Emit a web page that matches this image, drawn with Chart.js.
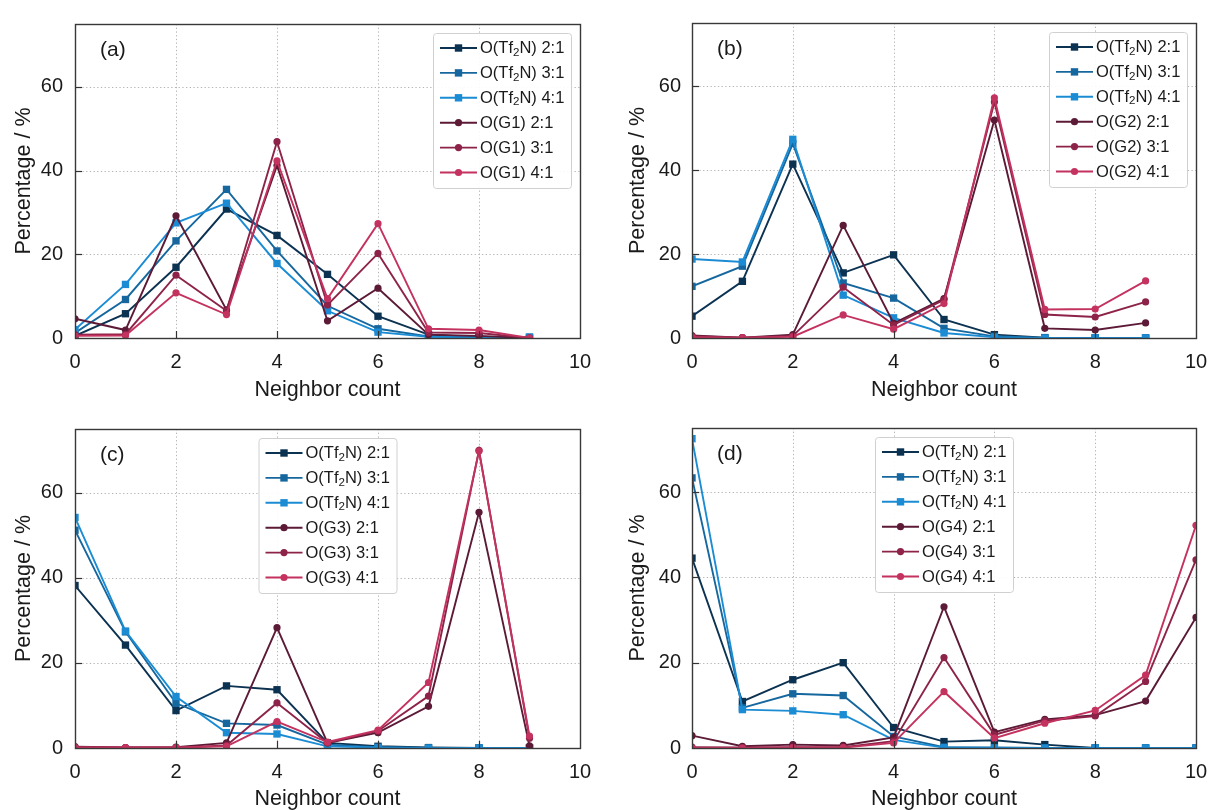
<!DOCTYPE html>
<html><head><meta charset="utf-8">
<script src="https://cdn.jsdelivr.net/npm/chart.js@4.4.1/dist/chart.umd.min.js"></script>
<style>
html,body{margin:0;padding:0;background:#fff;}
#wrap{position:relative;width:1208px;height:810px;overflow:hidden;background:#fff;}
canvas{position:absolute;display:block;}
</style></head><body>
<div id="wrap">
<canvas id="ca" width="604" height="405" style="left:0;top:0"></canvas>
<canvas id="cb" width="630" height="405" style="left:604px;top:0"></canvas>
<canvas id="cc" width="604" height="405" style="left:0;top:405px"></canvas>
<canvas id="cd" width="630" height="405" style="left:604px;top:405px"></canvas>
</div>
<script>
// ---------- data ----------
const countsABC = [0, 1, 2, 3, 4, 5, 6, 7, 8, 9];
const countsD = [0, 1, 2, 3, 4, 5, 6, 7, 8, 9, 10];
const xTicks = [0, 2, 4, 6, 8, 10];
const yTicks = [0, 20, 40, 60];
const panelLabels = ['(a)', '(b)', '(c)', '(d)'];
const tfLabels = ['O(Tf₂N) 2:1', 'O(Tf₂N) 3:1', 'O(Tf₂N) 4:1'];
const gLabelsA = ['O(G1) 2:1', 'O(G1) 3:1', 'O(G1) 4:1'];
const gLabelsB = ['O(G2) 2:1', 'O(G2) 3:1', 'O(G2) 4:1'];
const gLabelsC = ['O(G3) 2:1', 'O(G3) 3:1', 'O(G3) 4:1'];
const gLabelsD = ['O(G4) 2:1', 'O(G4) 3:1', 'O(G4) 4:1'];

// panel (a)
const aTf21 = [0.5, 5.8, 16.9, 30.8, 24.5, 15.2, 5.2, 0.8, 0.2, 0];
const aTf31 = [1.2, 9.2, 23.2, 35.5, 20.8, 7.7, 2.2, 0.4, 0.1, 0.2];
const aTf41 = [2.0, 12.8, 27.5, 32.2, 17.8, 6.5, 1.4, 0.3, 0.1, 0.2];
const aG21 = [4.6, 1.9, 29.2, 6.7, 41.2, 4.1, 11.9, 0.8, 0.5, 0];
const aG31 = [0.8, 0.9, 15.0, 6.5, 46.9, 7.9, 20.2, 1.3, 1.2, 0];
const aG41 = [0.5, 0.6, 10.8, 5.6, 42.3, 9.4, 27.3, 2.2, 1.9, 0];
// panel (b)
const bTf21 = [5.2, 13.5, 41.4, 15.5, 19.8, 4.4, 0.8, 0.1, 0, 0];
const bTf31 = [12.3, 17.1, 46.3, 13.1, 9.5, 2.3, 0.4, 0, 0, 0];
const bTf41 = [18.8, 18.1, 47.3, 10.2, 4.8, 1.2, 0.2, 0, 0, 0];
const bG21 = [0.6, 0.1, 0.8, 26.8, 3.5, 9.4, 51.9, 2.3, 1.9, 3.6];
const bG31 = [0.4, 0.1, 0.5, 12.1, 3.1, 9.1, 56.2, 5.6, 5.0, 8.6];
const bG41 = [0.2, 0.1, 0.3, 5.5, 2.1, 8.2, 57.2, 6.8, 6.9, 13.6];
// panel (c)
const cTf21 = [38.2, 24.2, 8.8, 14.6, 13.7, 1.2, 0.4, 0.1, 0, 0];
const cTf31 = [51.2, 27.3, 10.5, 5.8, 5.4, 0.8, 0.2, 0, 0, 0];
const cTf41 = [54.2, 27.5, 12.1, 3.6, 3.3, 0.4, 0.1, 0, 0, 0];
const cG21 = [0.3, 0.1, 0.2, 1.2, 28.3, 1.2, 3.6, 9.8, 55.4, 0.5];
const cG31 = [0.2, 0.1, 0.1, 0.6, 10.6, 1.2, 4.0, 12.2, 70.0, 2.3];
const cG41 = [0.1, 0.1, 0.1, 0.4, 6.2, 1.4, 4.2, 15.4, 69.8, 2.8];
// panel (d)
const dTf21 = [44.5, 10.9, 16.0, 20.0, 4.8, 1.5, 1.8, 0.8, 0, 0, 0];
const dTf31 = [63.3, 9.4, 12.7, 12.3, 2.7, 0.2, 0.1, 0, 0, 0, 0];
const dTf41 = [72.5, 9.0, 8.7, 7.8, 1.9, 0.1, 0, 0, 0, 0, 0];
const dG21 = [2.9, 0.4, 0.8, 0.6, 2.5, 33.1, 3.7, 6.7, 7.7, 11.0, 30.6];
const dG31 = [0.2, 0.1, 0.2, 0.2, 1.6, 21.2, 3.1, 6.4, 7.5, 15.6, 44.1];
const dG41 = [0, 0, 0.1, 0.1, 1.2, 13.2, 2.3, 5.8, 8.8, 17.1, 52.2];

// ---------- styles ----------
const tfColors = ['#0c3252', '#15679e', '#1b8cd4'];
const gColors = ['#5c1a36', '#8d2349', '#c4325f'];
const FONT = '"Liberation Sans", Arial, Helvetica, sans-serif';
const TXT = '#1a1a1a';

Chart.defaults.font.family = FONT;
Chart.defaults.color = TXT;

function drawRich(ctx, text, x, y, size) {
  const parts = text.split('₂');
  let cx = x;
  parts.forEach((p, i) => {
    ctx.font = size + 'px ' + FONT;
    ctx.fillText(p, cx, y);
    cx += ctx.measureText(p).width;
    if (i < parts.length - 1) {
      const s = size * 0.7;
      ctx.font = s + 'px ' + FONT;
      ctx.fillText('2', cx, y + size * 0.24);
      cx += ctx.measureText('2').width;
    }
  });
}

const decoPlugin = {
  id: 'panelDeco',
  beforeDatasetsDraw(chart) {
    const {ctx, chartArea: a, scales: {x, y}} = chart;
    ctx.save();
    ctx.strokeStyle = '#b5b5b5';
    ctx.lineWidth = 1;
    ctx.setLineDash([1.3, 2.4]);
    xTicks.forEach(v => {
      if (v > x.min && v < x.max) {
        const px = Math.round(x.getPixelForValue(v)) + 0.5;
        ctx.beginPath(); ctx.moveTo(px, a.top); ctx.lineTo(px, a.bottom); ctx.stroke();
      }
    });
    yTicks.forEach(v => {
      if (v > y.min && v < y.max) {
        const py = Math.round(y.getPixelForValue(v)) + 0.5;
        ctx.beginPath(); ctx.moveTo(a.left, py); ctx.lineTo(a.right, py); ctx.stroke();
      }
    });
    ctx.restore();
  },
  afterDatasetsDraw(chart) {
    const {ctx, chartArea: a, scales: {x, y}} = chart;
    const deco = chart.options.plugins.panelDeco;
    ctx.save();
    // inside ticks
    ctx.strokeStyle = '#333';
    ctx.lineWidth = 1.2;
    xTicks.forEach(v => {
      if (v > x.min && v < x.max) {
        const px = Math.round(x.getPixelForValue(v)) + 0.5;
        ctx.beginPath(); ctx.moveTo(px, a.bottom); ctx.lineTo(px, a.bottom - 7); ctx.stroke();
      }
    });
    yTicks.forEach(v => {
      if (v > y.min && v < y.max) {
        const py = Math.round(y.getPixelForValue(v)) + 0.5;
        ctx.beginPath(); ctx.moveTo(a.left, py); ctx.lineTo(a.left + 7, py); ctx.stroke();
      }
    });
    // frame
    ctx.strokeStyle = '#383838';
    ctx.lineWidth = 1.4;
    ctx.strokeRect(Math.round(a.left) + 0.5, Math.round(a.top) + 0.5,
                   Math.round(a.right - a.left), Math.round(a.bottom - a.top));
    // panel label
    ctx.fillStyle = TXT;
    ctx.font = '21px ' + FONT;
    ctx.textBaseline = 'middle';
    ctx.textAlign = 'left';
    ctx.fillText(deco.label, a.left + 25, a.top + 26);
    // legend
    const w = 138, h = 155;
    const bx = deco.legendAlign === 'right' ? a.right - 9 - w : (a.left + a.right) / 2 - w / 2;
    const by = a.top + 9;
    ctx.beginPath();
    if (ctx.roundRect) ctx.roundRect(bx + 0.5, by + 0.5, w, h, 3); else ctx.rect(bx + 0.5, by + 0.5, w, h);
    ctx.fillStyle = 'rgba(255,255,255,0.92)';
    ctx.fill();
    ctx.strokeStyle = '#d0d0d0';
    ctx.lineWidth = 1;
    ctx.stroke();
    chart.data.datasets.forEach((ds, i) => {
      const cy = by + 15 + i * 24.9;
      ctx.strokeStyle = ds.borderColor;
      ctx.lineWidth = 1.9;
      ctx.beginPath(); ctx.moveTo(bx + 7, cy); ctx.lineTo(bx + 44, cy); ctx.stroke();
      ctx.fillStyle = ds.borderColor;
      const mx = bx + 25.5;
      if (ds.pointStyle === 'rect') {
        ctx.fillRect(mx - 3.7, cy - 3.7, 7.4, 7.4);
      } else {
        ctx.beginPath(); ctx.arc(mx, cy, 3.6, 0, Math.PI * 2); ctx.fill();
      }
      ctx.fillStyle = TXT;
      ctx.textBaseline = 'middle';
      drawRich(ctx, ds.label, bx + 47, cy + 0.5, 16.5);
    });
    ctx.restore();
  }
};

function series(counts, vals) {
  return counts.map((c, i) => ({x: c, y: vals[i]}));
}

function makeDatasets(counts, tfSeries, gSeries, gLabels) {
  const out = [];
  tfSeries.forEach((vals, i) => out.push({
    label: tfLabels[i], data: series(counts, vals), borderColor: tfColors[i], backgroundColor: tfColors[i],
    pointStyle: 'rect', pointRadius: 5.2, pointBorderWidth: 0
  }));
  gSeries.forEach((vals, i) => out.push({
    label: gLabels[i], data: series(counts, vals), borderColor: gColors[i], backgroundColor: gColors[i],
    pointStyle: 'circle', pointRadius: 3.6, pointBorderWidth: 0
  }));
  out.forEach((d, i) => {
    d.borderWidth = 1.9; d.tension = 0; d.clip = 0; d.order = 10 - i; d.pointHoverRadius = d.pointRadius;
  });
  return out;
}

function makePanel(id, datasets, cfg) {
  new Chart(document.getElementById(id), {
    type: 'line',
    data: {datasets},
    plugins: [decoPlugin],
    options: {
      responsive: false,
      animation: false,
      events: [],
      layout: {padding: {left: 0, right: cfg.padRight, top: cfg.padTop, bottom: 0}},
      plugins: {
        legend: {display: false},
        tooltip: {enabled: false},
        panelDeco: {label: cfg.label, legendAlign: cfg.legendAlign}
      },
      scales: {
        x: {
          type: 'linear', min: 0, max: 10,
          afterBuildTicks: s => { s.ticks = xTicks.map(v => ({value: v})); },
          afterFit: s => { s.height = cfg.xHeight; },
          grid: {display: false, drawTicks: false, tickLength: 0},
          border: {display: false},
          ticks: {font: {size: 20, lineHeight: 1.2}, padding: 12, color: TXT, maxRotation: 0},
          title: {display: true, text: 'Neighbor count', font: {size: 21.5, lineHeight: 1}, padding: {top: 0, bottom: cfg.xTitlePad}, color: TXT}
        },
        y: {
          type: 'linear', min: 0, max: 75,
          afterBuildTicks: s => { s.ticks = yTicks.map(v => ({value: v})); },
          afterFit: s => { s.width = cfg.yWidth; },
          grid: {display: false, drawTicks: false, tickLength: 0},
          border: {display: false},
          ticks: {font: {size: 20, lineHeight: 1.2}, padding: cfg.yTickPad, color: TXT},
          title: {display: true, text: 'Percentage / %', font: {size: 21.5, lineHeight: 1}, padding: {top: cfg.yTitlePad, bottom: 0}, color: TXT}
        }
      }
    }
  });
}

makePanel('ca', makeDatasets(countsABC, [aTf21, aTf31, aTf41], [aG21, aG31, aG41], gLabelsA),
  {label: panelLabels[0], legendAlign: 'right', padRight: 24, padTop: 12, xHeight: 67, yWidth: 75, yTickPad: 12, yTitlePad: 13, xTitlePad: 4});
makePanel('cb', makeDatasets(countsABC, [bTf21, bTf31, bTf41], [bG21, bG31, bG41], gLabelsB),
  {label: panelLabels[1], legendAlign: 'right', padRight: 38, padTop: 12, xHeight: 67, yWidth: 88, yTickPad: 11, yTitlePad: 23, xTitlePad: 4});
makePanel('cc', makeDatasets(countsABC, [cTf21, cTf31, cTf41], [cG21, cG31, cG41], gLabelsC),
  {label: panelLabels[2], legendAlign: 'center', padRight: 24, padTop: 17, xHeight: 62, yWidth: 75, yTickPad: 12, yTitlePad: 13, xTitlePad: 0});
makePanel('cd', makeDatasets(countsD, [dTf21, dTf31, dTf41], [dG21, dG31, dG41], gLabelsD),
  {label: panelLabels[3], legendAlign: 'center', padRight: 38, padTop: 17, xHeight: 62, yWidth: 88, yTickPad: 11, yTitlePad: 23, xTitlePad: 0});
</script>
</body></html>
